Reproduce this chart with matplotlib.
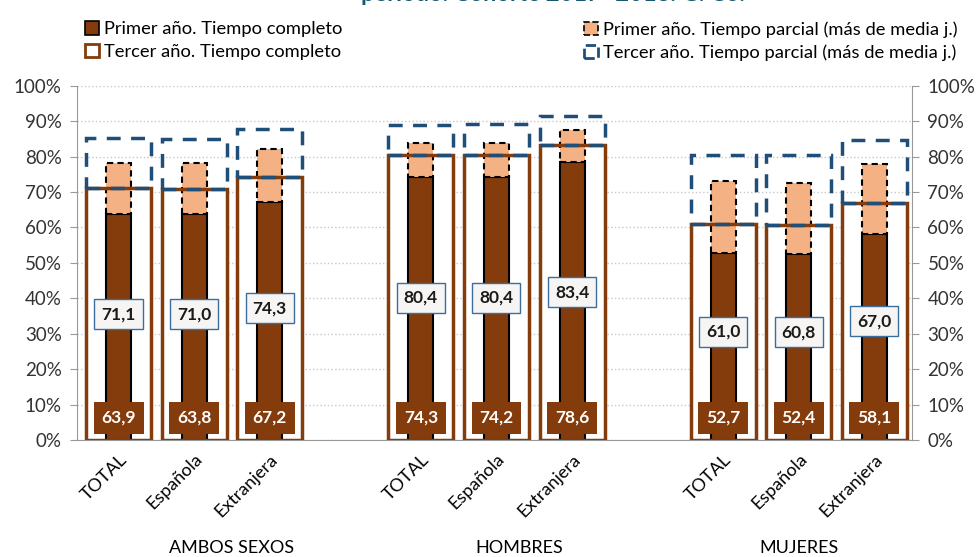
import matplotlib.pyplot as plt
from matplotlib.patches import Patch
import numpy as np

plt.rcParams['font.family'] = ['Lato', 'DejaVu Sans']

# datos
grupos = ["AMBOS SEXOS", "HOMBRES", "MUJERES"]
categorias = ["TOTAL", "Española", "Extranjera"] * 3
primer_completo = [63.9, 63.8, 67.2, 74.3, 74.2, 78.6, 52.7, 52.4, 58.1]
primer_parcial = [14.4, 14.5, 14.9, 9.5, 9.6, 8.8, 20.3, 20.1, 19.9]
tercer_completo = [71.1, 71.0, 74.3, 80.4, 80.4, 83.4, 61.0, 60.8, 67.0]
tercer_parcial = [14.1, 13.9, 13.5, 8.6, 8.8, 8.2, 19.5, 19.7, 17.7]

MARRON = '#843c0c'
MELOCOTON = '#f4b183'
AZUL = '#1f4e79'

x = np.array([0, 1, 2, 4, 5, 6, 8, 9, 10])
pos_grupos = [1.5, 5.3, 9.0]

fig = plt.figure(figsize=(9.79, 5.57), dpi=100)
ax = fig.add_axes([0.0787, 0.21, 0.853, 0.636])

w_ext = 0.86
w_int = 0.33

# fondo blanco de las barras exteriores
ax.bar(x, tercer_completo, width=w_ext, color='white', zorder=1)
# barras interiores (primer año)
ax.bar(x, primer_completo, width=w_int, color=MARRON, edgecolor='black',
       linewidth=1.5, zorder=2)
ax.bar(x, primer_parcial, bottom=primer_completo, width=w_int, color=MELOCOTON,
       edgecolor='black', linewidth=1.5, linestyle=(0, (3, 2)), zorder=2)
# barras exteriores (tercer año)
ax.bar(x, tercer_completo, width=w_ext, fill=False, edgecolor=MARRON,
       linewidth=2.5, zorder=3)
ax.bar(x, tercer_parcial, bottom=tercer_completo, width=w_ext, fill=False,
       edgecolor=AZUL, linewidth=2.5, linestyle=(0, (4, 3)), zorder=4)

for xi, v1, v3 in zip(x, primer_completo, tercer_completo):
    ax.text(xi, 6.3, f"{v1:.1f}".replace('.', ','), ha='center', va='center',
            color='white', fontsize=12.5, fontweight='bold', zorder=6,
            bbox=dict(boxstyle='square,pad=0.45', facecolor=MARRON, edgecolor='none'))
    ax.text(xi, v3 / 2, f"{v3:.1f}".replace('.', ','), ha='center', va='center',
            color='#1a1a1a', fontsize=12.5, fontweight='bold', zorder=6,
            bbox=dict(boxstyle='square,pad=0.4', facecolor='#f7f5f3',
                      edgecolor='#3a6e9e', linewidth=1))

ax.set_xlim(-0.55, 10.5)
ax.set_ylim(0, 100)
yt = np.arange(0, 101, 10)
ax.set_yticks(yt)
ax.set_yticklabels([f"{v}%" for v in yt], fontsize=13.5, color='#333333')
ax.tick_params(axis='y', which='both', left=True, right=True, labelleft=True,
               labelright=True, direction='out', length=5, color='#999999', pad=6)
ax.set_xticks(x)
ax.set_xticklabels(categorias, rotation=45, ha='right', rotation_mode='anchor',
                   fontsize=13)
ax.tick_params(axis='x', length=0, pad=8)
ax.yaxis.grid(True, color='#c8c8c8', linestyle=':', linewidth=1, zorder=0)
ax.set_axisbelow(True)
ax.spines['top'].set_visible(False)
for s in ['left', 'right', 'bottom']:
    ax.spines[s].set_color('#999999')

for gx, g in zip(pos_grupos, grupos):
    ax.text(gx, -30.5, g, ha='center', va='center', fontsize=13,
            transform=ax.transData, clip_on=False)

# titulo recortado en la parte superior
fig.text(0.565, 1.012, "periodo. Cohorte 2017- 2018. G. Co.", ha='center', va='center',
         fontsize=17, fontweight='bold', color='#17586e')

h1 = [Patch(facecolor=MARRON, edgecolor='black', linewidth=1.2),
      Patch(facecolor='white', edgecolor=MARRON, linewidth=2)]
h2 = [Patch(facecolor=MELOCOTON, edgecolor='black', linewidth=1.2, linestyle='--'),
      Patch(facecolor='white', edgecolor=AZUL, linewidth=2, linestyle='--')]
leg_kw = dict(frameon=False, fontsize=13.2, handlelength=0.75, handleheight=0.75,
              handletextpad=0.25, labelspacing=0.35, borderaxespad=0, borderpad=0)
fig.legend(h1, ["Primer año. Tiempo completo", "Tercer año. Tiempo completo"],
           loc='upper left', bbox_to_anchor=(0.087, 0.962), **leg_kw)
fig.legend(h2, ["Primer año. Tiempo parcial (más de media j.)",
                "Tercer año. Tiempo parcial (más de media j.)"],
           loc='upper left', bbox_to_anchor=(0.597, 0.962), **leg_kw)

fig.savefig('out.png', dpi=100)
